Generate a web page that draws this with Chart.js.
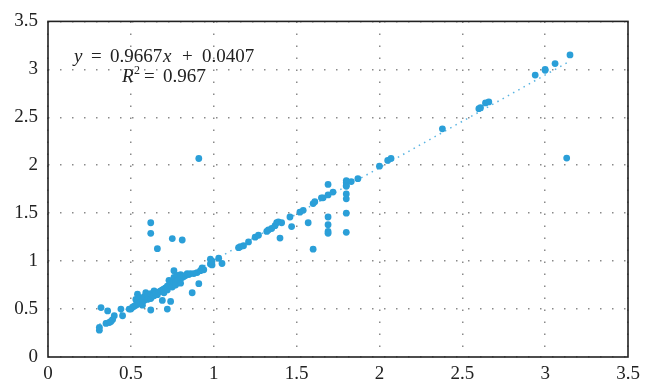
<!DOCTYPE html>
<html>
<head>
<meta charset="utf-8">
<script src="https://cdn.jsdelivr.net/npm/chart.js@4/dist/chart.umd.min.js"></script>
<style>
  html, body { margin: 0; padding: 0; background: #fff; }
  #wrap { width: 651px; height: 387px; }
</style>
</head>
<body>
<div id="wrap"><canvas id="chart"></canvas></div>
<script>
// valeurs (x, y)
const xValues = [
  0.32, 0.31, 0.31, 0.36, 0.35, 0.37, 0.38, 0.39, 0.40, 0.44, 0.45, 0.49,
  0.50, 0.51, 0.52, 0.53, 0.53, 0.54, 0.54, 0.55, 0.55, 0.56, 0.57, 0.57,
  0.58, 0.58, 0.59, 0.60, 0.60, 0.61, 0.62, 0.62, 0.62, 0.63, 0.64, 0.64,
  0.65, 0.66, 0.67, 0.68, 0.69, 0.69, 0.70, 0.70, 0.71, 0.72, 0.72, 0.72,
  0.73, 0.73, 0.74, 0.74, 0.75, 0.75, 0.76, 0.76, 0.76, 0.77, 0.77, 0.78,
  0.78, 0.79, 0.80, 0.80, 0.80, 0.81, 0.82, 0.83, 0.84, 0.85, 0.86, 0.87,
  0.88, 0.90, 0.91, 0.92, 0.93, 0.94, 0.98, 0.98, 0.99, 0.99, 1.03, 1.05,
  0.62, 0.62, 0.66, 0.75, 0.81, 0.91,
  1.15, 1.16, 1.18, 1.21, 1.25, 1.27, 1.32, 1.33, 1.35, 1.37, 1.38, 1.39,
  1.41, 1.40, 1.46, 1.47, 1.52, 1.54, 1.57, 1.60, 1.60, 1.61, 1.65, 1.66,
  1.69, 1.69, 1.69, 1.69, 1.69, 1.69, 1.72, 1.80, 1.80, 1.80, 1.80, 1.80,
  1.80, 1.80, 1.80, 1.83, 1.87, 2.00, 2.05, 2.07, 2.38, 2.60, 2.61, 2.64,
  2.66, 2.94, 3.00, 3.00, 3.06, 3.15, 3.13
];
const yValues = [
  0.515, 0.31, 0.28, 0.48, 0.35, 0.36, 0.37, 0.39, 0.43, 0.50, 0.43, 0.50,
  0.50, 0.52, 0.53, 0.54, 0.60, 0.55, 0.655, 0.56, 0.62, 0.57, 0.58, 0.54,
  0.59, 0.63, 0.67, 0.60, 0.65, 0.62, 0.61, 0.49, 0.66, 0.63, 0.69, 0.64,
  0.66, 0.65, 0.68, 0.69, 0.59, 0.70, 0.71, 0.67, 0.72, 0.50, 0.74, 0.70,
  0.75, 0.80, 0.58, 0.76, 0.77, 0.73, 0.90, 0.83, 0.78, 0.79, 0.75, 0.80,
  0.85, 0.81, 0.82, 0.86, 0.77, 0.83, 0.84, 0.85, 0.87, 0.86, 0.87, 0.67,
  0.87, 0.88, 0.765, 0.90, 0.93, 0.91, 1.02, 0.97, 0.96, 1.00, 1.03, 0.975,
  1.40, 1.29, 1.13, 1.235, 1.22, 2.07,
  1.14, 1.15, 1.16, 1.20, 1.25, 1.27, 1.31, 1.325, 1.34, 1.37, 1.40, 1.41,
  1.40, 1.24, 1.46, 1.36, 1.51, 1.53, 1.40, 1.125, 1.60, 1.62, 1.66, 1.66,
  1.69, 1.80, 1.46, 1.38, 1.31, 1.29, 1.72, 1.84, 1.82, 1.79, 1.78, 1.70,
  1.65, 1.50, 1.30, 1.83, 1.86, 1.99, 2.05, 2.07, 2.38, 2.59, 2.60, 2.65,
  2.66, 2.94, 3.00, 2.99, 3.06, 3.15, 2.075
];

// droite de tendance affichée sur le graphique
const slope = 0.9667;
const intercept = 0.0407;
const r2 = 0.967;

const xTicks = [0, 0.5, 1, 1.5, 2, 2.5, 3, 3.5];
const yTicks = [0, 0.5, 1, 1.5, 2, 2.5, 3, 3.5];

const points = xValues.map((x, i) => ({ x: x, y: yValues[i] }));
const xMin = Math.min(...xValues);
const xMax = Math.max(...xValues);
const trend = [
  { x: xMin, y: slope * xMin + intercept },
  { x: xMax, y: slope * xMax + intercept }
];

const serif = "'Liberation Serif', 'DejaVu Serif', serif";

// cadre + équation
const framePlugin = {
  id: 'frame',
  afterDraw(chart) {
    const { ctx, chartArea: a } = chart;
    ctx.save();
    ctx.strokeStyle = '#222';
    ctx.lineWidth = 1.6;
    ctx.strokeRect(a.left, a.top, a.right - a.left, a.bottom - a.top);

    ctx.fillStyle = '#222';
    ctx.textBaseline = 'alphabetic';
    ctx.textAlign = 'left';
    // [style, taille, texte, x, ligne de base]
    const parts = [
      ['italic', 19, 'y', 74, 62],
      ['normal', 19, '=', 91, 62],
      ['normal', 19, '0.9667', 110, 62],
      ['italic', 19, 'x', 163, 62],
      ['normal', 19, '+', 182, 62],
      ['normal', 19, '0.0407', 202, 62],
      ['italic', 19, 'R', 122, 82],
      ['normal', 12, '2', 134, 74],
      ['normal', 19, '=', 144, 82],
      ['normal', 19, String(r2), 163, 82]
    ];
    parts.forEach(p => {
      ctx.font = p[0] + ' ' + p[1] + 'px ' + serif;
      ctx.fillText(p[2], p[3], p[4]);
    });
    ctx.restore();
  }
};

const gridOpts = {
  color: '#8a8a8a',
  lineWidth: 1.5,
  drawTicks: false
};

new Chart(document.getElementById('chart'), {
  type: 'scatter',
  data: {
    datasets: [
      {
        label: 'données',
        data: points,
        backgroundColor: '#2b9fd8',
        borderWidth: 0,
        pointRadius: 3.4,
        order: 1
      },
      {
        type: 'line',
        label: 'tendance',
        data: trend,
        borderColor: '#5ab4e2',
        borderWidth: 1.5,
        borderDash: [1.5, 4.5],
        pointRadius: 0,
        fill: false,
        order: 2
      }
    ]
  },
  options: {
    responsive: true,
    maintainAspectRatio: false,
    animation: false,
    layout: { padding: { left: 0, right: 23, top: 17, bottom: 0 } },
    plugins: {
      legend: { display: false },
      tooltip: { enabled: false }
    },
    scales: {
      x: {
        type: 'linear',
        min: 0, max: 3.5,
        afterBuildTicks: s => { s.ticks = xTicks.map(v => ({ value: v })); },
        afterFit: s => { s.height = 30; },
        grid: gridOpts,
        border: { display: false, dash: [1.5, 10.5] },
        ticks: {
          padding: 6,
          color: '#222',
          font: { family: serif, size: 19 },
          maxRotation: 0,
          callback: v => String(v)
        }
      },
      y: {
        type: 'linear',
        min: 0, max: 3.5,
        afterBuildTicks: s => { s.ticks = yTicks.map(v => ({ value: v })); },
        afterFit: s => { s.width = 48; },
        grid: gridOpts,
        border: { display: false, dash: [1.5, 10.5] },
        ticks: {
          padding: 10,
          color: '#222',
          font: { family: serif, size: 19 },
          callback: v => String(v)
        }
      }
    }
  },
  plugins: [framePlugin]
});
</script>
</body>
</html>
